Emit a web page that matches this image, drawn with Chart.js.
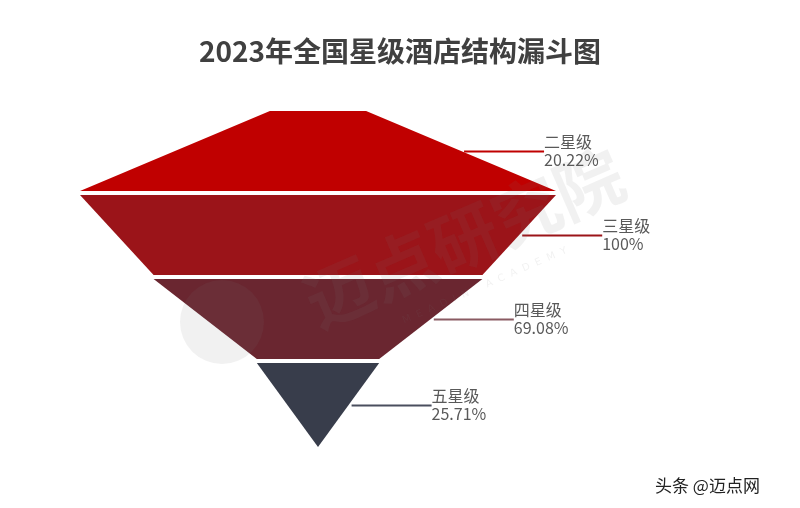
<!DOCTYPE html>
<html>
<head>
<meta charset="utf-8">
<script src="https://cdn.jsdelivr.net/npm/chart.js@4.4.1/dist/chart.umd.min.js"></script>
<style>
    html, body { margin: 0; padding: 0; background: #ffffff; }
    #wrap { position: relative; width: 800px; height: 508px; overflow: hidden; }
    #title {
        position: absolute; left: 0; top: 35px; width: 800px; text-align: center;
        font: bold 28px "Noto Sans CJK SC", sans-serif; line-height: 30px; color: #404040;
    }
    #footer {
        position: absolute; left: 655px; top: 474px;
        font: 17px "Noto Sans CJK SC", sans-serif; line-height: 22px; color: #222222;
    }
    canvas { position: absolute; left: 0; top: 0; }
</style>
</head>
<body>
<div id="wrap">
    <canvas id="funnelChart" width="800" height="508"></canvas>
    <div id="title">2023年全国星级酒店结构漏斗图</div>
    <div id="footer">头条 @迈点网</div>
</div>
<script>
// Funnel data
const categories = ['二星级', '三星级', '四星级', '五星级'];
const shares = [20.22, 100, 69.08, 25.71];
const segColors = ['#C00000', '#9B1419', '#6A2630', '#383D4B'];
const lineColors = ['#C00000', '#9B1419', '#8A5A62', '#4A4F5E'];

const GAP = 0.048; // white band between segments, in y units

// each segment is a closed polygon: top width = own share, bottom width = next share
function segmentPoints(i) {
    const top = shares[i];
    const bottom = i + 1 < shares.length ? shares[i + 1] : 0;
    const y0 = i;
    const y1 = i + 1 < shares.length ? i + 1 - GAP : i + 1;
    return [
        { x: -top / 2, y: y0 },
        { x: top / 2, y: y0 },
        { x: bottom / 2, y: y1 },
        { x: -bottom / 2, y: y1 },
        { x: -top / 2, y: y0 }
    ];
}

// Leader lines + labels
const labelPlugin = {
    id: 'funnelLabels',
    afterDatasetsDraw(chart) {
        const ctx = chart.ctx;
        const xs = chart.scales.x;
        const ys = chart.scales.y;
        ctx.save();
        categories.forEach((name, i) => {
            const top = shares[i];
            const bottom = i + 1 < shares.length ? shares[i + 1] : 0;
            const y1 = i + 1 < shares.length ? i + 1 - GAP : i + 1;
            const midY = (i + y1) / 2;
            const edge = (top + bottom) / 4;
            const px = xs.getPixelForValue(edge) + 3;
            const py = Math.round(ys.getPixelForValue(midY)) + 0.5;
            const endX = px + 80;

            ctx.strokeStyle = lineColors[i];
            ctx.lineWidth = 2;
            ctx.beginPath();
            ctx.moveTo(px, py);
            ctx.lineTo(endX, py);
            ctx.stroke();

            ctx.fillStyle = '#595959';
            ctx.font = '16px "Noto Sans CJK SC", sans-serif';
            ctx.textAlign = 'left';
            ctx.textBaseline = 'alphabetic';
            ctx.fillText(name, endX, py - 4);
            ctx.fillText(shares[i] + '%', endX, py + 14);
        });
        ctx.restore();
    }
};

// faint watermark
const watermarkPlugin = {
    id: 'watermark',
    afterDraw(chart) {
        const ctx = chart.ctx;
        ctx.save();
        ctx.fillStyle = 'rgba(120, 120, 120, 0.10)';
        ctx.beginPath();
        ctx.arc(222, 322, 42, 0, Math.PI * 2);
        ctx.fill();
        ctx.translate(464, 238);
        ctx.rotate(-0.41);
        ctx.font = 'bold 68px "Noto Sans CJK SC", sans-serif';
        ctx.textAlign = 'center';
        ctx.textBaseline = 'middle';
        ctx.fillText('迈点研究院', 0, 0);
        ctx.font = '10px "DejaVu Sans", sans-serif';
        ctx.fillText('M  E  A  D  I  N      A  C  A  D  E  M  Y', 0, 52);
        ctx.restore();
    }
};

new Chart(document.getElementById('funnelChart'), {
    type: 'scatter',
    data: {
        datasets: categories.map((name, i) => ({
            label: name,
            data: segmentPoints(i),
            showLine: true,
            fill: 'shape',
            backgroundColor: segColors[i],
            borderColor: segColors[i],
            borderWidth: 0,
            pointRadius: 0,
            pointHoverRadius: 0,
            tension: 0
        }))
    },
    options: {
        responsive: false,
        animation: false,
        layout: {
            padding: { left: 80, right: 244, top: 111, bottom: 61 }
        },
        plugins: {
            legend: { display: false },
            tooltip: { enabled: false }
        },
        scales: {
            x: { type: 'linear', min: -50, max: 50, display: false },
            y: { type: 'linear', min: 0, max: 4, reverse: true, display: false }
        }
    },
    plugins: [labelPlugin, watermarkPlugin]
});
</script>
</body>
</html>
